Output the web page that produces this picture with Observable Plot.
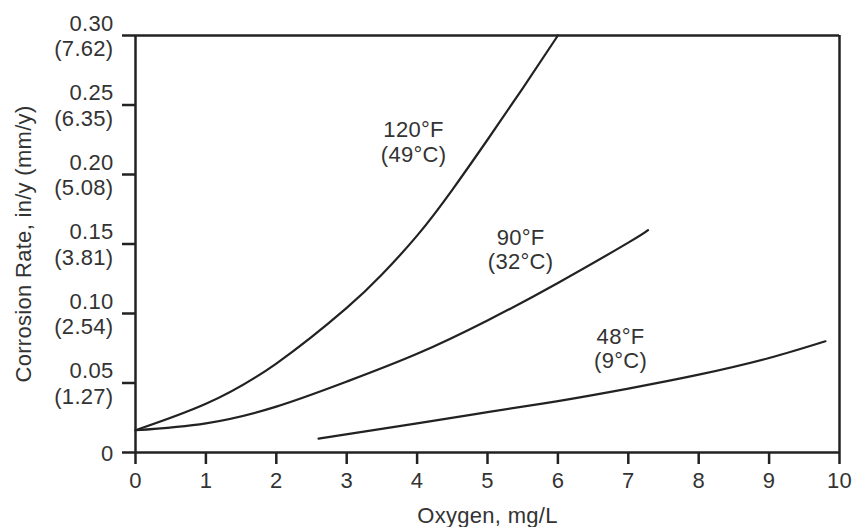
<!DOCTYPE html>
<html>
<head>
<meta charset="utf-8">
<script src="https://cdn.jsdelivr.net/npm/d3@7"></script>
<script src="https://cdn.jsdelivr.net/npm/@observablehq/plot@0.6"></script>
<style>
  html, body { margin: 0; padding: 0; background: #fff; }
</style>
</head>
<body>
<div id="chart"></div>
<script>
// Curve data (oxygen in mg/L, corrosion rate in in/y)
const oxygen120 = [0, 1, 2, 3, 3.5, 4, 4.5, 5, 5.5, 6];
const rate120   = [0.016, 0.035, 0.064, 0.104, 0.128, 0.156, 0.189, 0.225, 0.262, 0.30];

const oxygen90 = [0, 1, 2, 3, 4, 5, 6, 7, 7.28];
const rate90   = [0.016, 0.021, 0.033, 0.051, 0.071, 0.095, 0.122, 0.151, 0.160];

const oxygen48 = [2.6, 4, 5, 6, 7, 8, 9, 9.8];
const rate48   = [0.010, 0.021, 0.029, 0.037, 0.046, 0.056, 0.068, 0.080];

// Curve labels (data coordinates)
const labelText = ["120°F\n(49°C)", "90°F\n(32°C)", "48°F\n(9°C)"];
const labelX = [3.95, 5.47, 6.89];
const labelY = [0.2235, 0.146, 0.0751];

// Axis ticks
const xTicks = [0, 1, 2, 3, 4, 5, 6, 7, 8, 9, 10];
const yTicks = [0, 0.05, 0.10, 0.15, 0.20, 0.25, 0.30];
const yTickLabels = ["0", "0.05\n(1.27)", "0.10\n(2.54)", "0.15\n(3.81)", "0.20\n(5.08)", "0.25\n(6.35)", "0.30\n(7.62)"];

const xTitle = "Oxygen, mg/L";
const yTitle = "Corrosion Rate, in/y (mm/y)";

const toRows = (xs, ys) => xs.map((x, i) => ({x, y: ys[i]}));
const yLab = new Map(yTicks.map((t, i) => [t, yTickLabels[i]]));
const labels = labelText.map((t, i) => ({t, x: labelX[i], y: labelY[i]}));

const ink = "#222";
const txt = "#333";
const fs = 22;
const lineStyle = {x: "x", y: "y", curve: "natural", stroke: ink, strokeWidth: 2.2};

const chart = Plot.plot({
  width: 855,
  height: 527,
  marginLeft: 135,
  marginRight: 16,
  marginTop: 35,
  marginBottom: 75,
  style: {fontSize: fs + "px", fontFamily: "'Liberation Sans', Arial, Helvetica, sans-serif", color: ink, background: "#fff", letterSpacing: "0.3px"},
  x: {domain: [0, 10]},
  y: {domain: [0, 0.30]},
  marks: [
    Plot.axisX({ticks: xTicks, tickSize: 12, tickPadding: 8, strokeWidth: 2.5, label: null, fill: txt, fontSize: fs}),
    Plot.axisY({ticks: yTicks, tickSize: 13, tickPadding: 9, strokeWidth: 2.5, label: null,
      tickFormat: d => yLab.get(d), lineHeight: 1.15, fill: txt, fontSize: fs}),
    Plot.ruleX([0], {stroke: ink, strokeWidth: 2.5}),
    Plot.ruleY([0], {stroke: ink, strokeWidth: 2.5}),
    Plot.ruleX([10], {stroke: ink, strokeWidth: 2.5}),
    Plot.ruleY([0.30], {stroke: ink, strokeWidth: 2.5}),
    Plot.line(toRows(oxygen120, rate120), lineStyle),
    Plot.line(toRows(oxygen90, rate90), lineStyle),
    Plot.line(toRows(oxygen48, rate48), lineStyle),
    Plot.text(labels, {x: "x", y: "y", text: "t", fontSize: fs, lineHeight: 1.1, fill: txt}),
    Plot.text([xTitle], {frameAnchor: "bottom", dy: 63, lineAnchor: "middle", textAnchor: "middle", fontSize: fs, fill: txt}),
    Plot.text([yTitle], {frameAnchor: "left", dx: -112, rotate: -90, textAnchor: "middle", lineAnchor: "middle", fontSize: fs, fill: txt})
  ]
});
document.getElementById("chart").appendChild(chart);
</script>
</body>
</html>
